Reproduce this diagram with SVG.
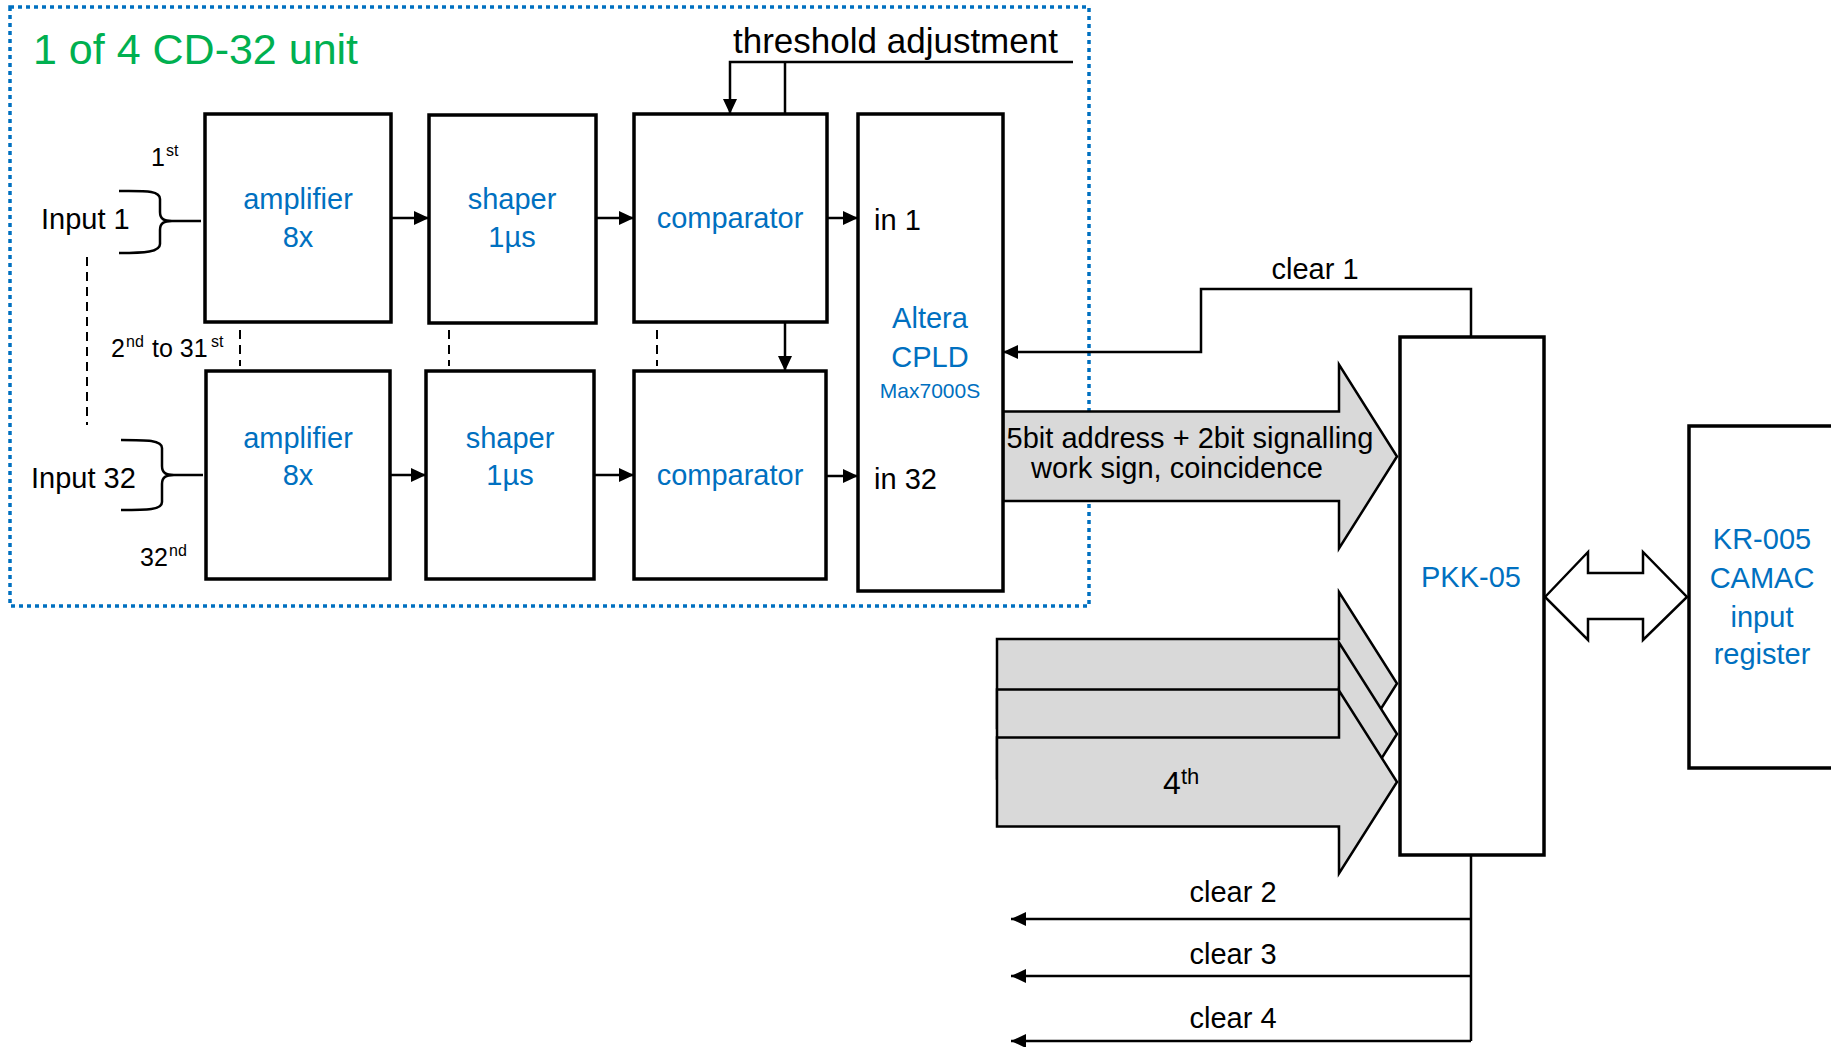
<svg xmlns="http://www.w3.org/2000/svg" width="1831" height="1047" viewBox="0 0 1831 1047">
<style>
  text { font-family: "Liberation Sans", Arial, sans-serif; }
  .box { fill: #fff; stroke: #000; stroke-width: 3.5; }
  .lbl { font-size: 29px; fill: #0070C0; text-anchor: middle; }
  .blk { font-size: 29px; fill: #000; }
  .idx { font-size: 25px; fill: #000; }
  .sup { font-size: 16px; }
  .wire { fill: none; stroke: #000; stroke-width: 2.5; }
  .dash { fill: none; stroke: #000; stroke-width: 2; stroke-dasharray: 9 6; }
  .bus { fill: #D9D9D9; stroke: #000; stroke-width: 2.5; stroke-linejoin: miter; }
</style>
<defs>
  <marker id="ah" markerUnits="userSpaceOnUse" markerWidth="16" markerHeight="14" refX="15" refY="7" orient="auto">
    <path d="M0,0 L15,7 L0,14 z" fill="#000"/>
  </marker>
</defs>
<rect width="1831" height="1047" fill="#fff"/>

<!-- unit frame -->
<g id="unit-frame">
  <rect x="10" y="7" width="1079" height="599" fill="none" stroke="#0070C0" stroke-width="3.5" stroke-dasharray="4 4"/>
  <text x="33" y="64" style="font-size:43px" fill="#00B050">1 of 4 CD-32 unit</text>
</g>

<!-- connectors -->
<g id="connectors">
  <!-- input braces -->
  <path class="wire" stroke-width="2" d="M119,191 C145,191 160,190 160,199 L160,212 C160,219 164,221 172,221 L201,221 M172,221 C164,221 160,223 160,230 L160,244 C160,252 145,253 119,253"/>
  <path class="wire" stroke-width="2" d="M121,440 C147,440 162,440 162,448 L162,466 C162,473 166,475 174,475 L203,475 M174,475 C166,475 162,477 162,484 L162,502 C162,510 147,510 121,510"/>
  <!-- channel 1 chain -->
  <line class="wire" x1="391" y1="218" x2="429" y2="218" marker-end="url(#ah)"/>
  <line class="wire" x1="596" y1="218" x2="634" y2="218" marker-end="url(#ah)"/>
  <line class="wire" x1="827" y1="218" x2="858" y2="218" marker-end="url(#ah)"/>
  <!-- channel 32 chain -->
  <line class="wire" x1="390" y1="475" x2="426" y2="475" marker-end="url(#ah)"/>
  <line class="wire" x1="594" y1="475" x2="634" y2="475" marker-end="url(#ah)"/>
  <line class="wire" x1="826" y1="476" x2="858" y2="476" marker-end="url(#ah)"/>
  <!-- threshold adjustment -->
  <polyline class="wire" points="1073,62 730,62 730,114" marker-end="url(#ah)"/>
  <line class="wire" x1="785" y1="62" x2="785" y2="114"/>
  <line class="wire" x1="785" y1="322" x2="785" y2="371" marker-end="url(#ah)"/>
  <!-- dashed continuation lines -->
  <line class="dash" x1="87" y1="257" x2="87" y2="425"/>
  <line class="dash" x1="240" y1="330" x2="240" y2="366"/>
  <line class="dash" x1="449" y1="330" x2="449" y2="366"/>
  <line class="dash" x1="657" y1="330" x2="657" y2="366"/>
  <!-- clear 1 -->
  <polyline class="wire" points="1471,337 1471,289 1201,289 1201,352 1003,352" marker-end="url(#ah)"/>
  <!-- clear 2-4 -->
  <line class="wire" x1="1471" y1="855" x2="1471" y2="1041"/>
  <line class="wire" x1="1471" y1="919" x2="1011" y2="919" marker-end="url(#ah)"/>
  <line class="wire" x1="1471" y1="976" x2="1011" y2="976" marker-end="url(#ah)"/>
  <line class="wire" x1="1471" y1="1041" x2="1011" y2="1041" marker-end="url(#ah)"/>
  <!-- bus arrows -->
  <polygon class="bus" points="1003,411.5 1339,411.5 1339,364.5 1397,456.5 1339,548.5 1339,501 1003,501"/>
  <polygon class="bus" points="997,639 1339,639 1339,592 1397,683.5 1339,775 1339,728 997,728"/>
  <polygon class="bus" points="997,689.5 1339,689.5 1339,642.5 1397,734 1339,825.5 1339,778.5 997,778.5"/>
  <polygon class="bus" points="997,737.5 1339,737.5 1339,690.5 1397,782 1339,873.5 1339,826.5 997,826.5"/>
  <!-- PKK <-> KR double arrow -->
  <polygon fill="#fff" stroke="#000" stroke-width="2.5" points="1545,597 1588,552 1588,573 1643,573 1643,552 1687,597 1643,640 1643,619 1588,619 1588,640"/>
</g>

<!-- connector labels -->
<g id="labels">
  <text class="blk" x="733" y="53" style="font-size:35px">threshold adjustment</text>
  <text class="blk" x="41" y="229">Input 1</text>
  <text class="blk" x="31" y="488">Input 32</text>
  <text class="idx" x="151" y="166">1<tspan class="sup" x="166" y="156">st</tspan></text>
  <text class="idx" x="111" y="357">2<tspan class="sup" x="126" y="347">nd</tspan><tspan x="152" y="357">to 31</tspan><tspan class="sup" x="211" y="347">st</tspan></text>
  <text class="idx" x="140" y="566">32<tspan class="sup" x="169" y="556">nd</tspan></text>
  <text class="blk" x="1315" y="279" text-anchor="middle">clear 1</text>
  <text class="blk" x="1233" y="902" text-anchor="middle">clear 2</text>
  <text class="blk" x="1233" y="964" text-anchor="middle">clear 3</text>
  <text class="blk" x="1233" y="1028" text-anchor="middle">clear 4</text>
  <text class="blk" x="1190" y="448" text-anchor="middle">5bit address + 2bit signalling</text>
  <text class="blk" x="1177" y="478" text-anchor="middle">work sign, coincidence</text>
  <text class="blk" x="1163" y="794" style="font-size:32px">4<tspan x="1181" y="784" style="font-size:22px">th</tspan></text>
</g>

<!-- nodes -->
<g id="amplifier-1">
  <rect class="box" x="205" y="114" width="186" height="208"/>
  <text class="lbl" x="298" y="209">amplifier</text>
  <text class="lbl" x="298" y="247">8x</text>
</g>
<g id="shaper-1">
  <rect class="box" x="429" y="115" width="167" height="208"/>
  <text class="lbl" x="512" y="209">shaper</text>
  <text class="lbl" x="512" y="247">1µs</text>
</g>
<g id="comparator-1">
  <rect class="box" x="634" y="114" width="193" height="208"/>
  <text class="lbl" x="730" y="228">comparator</text>
</g>
<g id="amplifier-32">
  <rect class="box" x="206" y="371" width="184" height="208"/>
  <text class="lbl" x="298" y="448">amplifier</text>
  <text class="lbl" x="298" y="485">8x</text>
</g>
<g id="shaper-32">
  <rect class="box" x="426" y="371" width="168" height="208"/>
  <text class="lbl" x="510" y="448">shaper</text>
  <text class="lbl" x="510" y="485">1µs</text>
</g>
<g id="comparator-32">
  <rect class="box" x="634" y="371" width="192" height="208"/>
  <text class="lbl" x="730" y="485">comparator</text>
</g>
<g id="cpld">
  <rect class="box" x="858" y="114" width="145" height="477"/>
  <text class="blk" x="874" y="230">in 1</text>
  <text class="blk" x="874" y="489">in 32</text>
  <text class="lbl" x="930" y="328">Altera</text>
  <text class="lbl" x="930" y="367">CPLD</text>
  <text class="lbl" x="930" y="398" style="font-size:21px">Max7000S</text>
</g>
<g id="pkk-05">
  <rect class="box" x="1400" y="337" width="144" height="518"/>
  <text class="lbl" x="1471" y="587">PKK-05</text>
</g>
<g id="kr-005">
  <rect class="box" x="1689" y="426" width="200" height="342"/>
  <text class="lbl" x="1762" y="549">KR-005</text>
  <text class="lbl" x="1762" y="588">CAMAC</text>
  <text class="lbl" x="1762" y="627">input</text>
  <text class="lbl" x="1762" y="664">register</text>
</g>
</svg>
